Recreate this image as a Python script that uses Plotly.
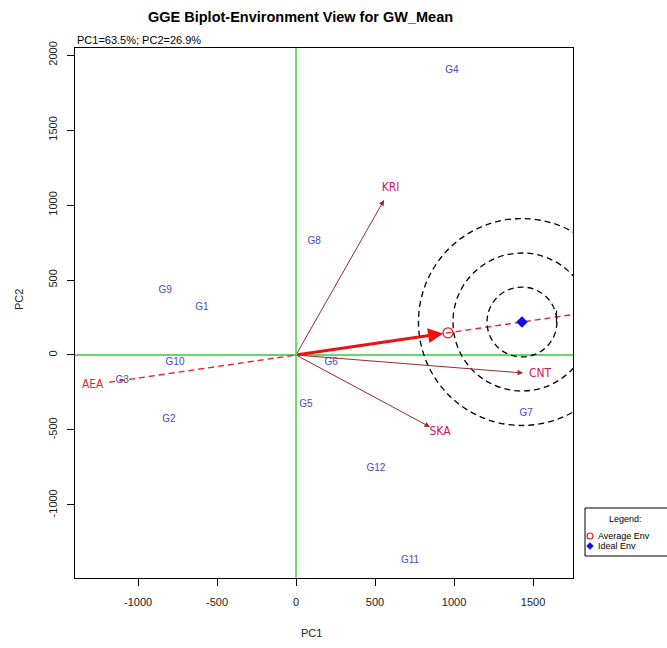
import math
import plotly.graph_objects as go

# ---------------- data ----------------
genotypes = ["G1", "G2", "G3", "G4", "G5", "G6", "G7", "G8", "G9", "G10", "G11", "G12"]
gen_pc1 = [-595, -804, -1101, 987, 63, 222, 1456, 114, -829, -766, 722, 506]
gen_pc2 = [320, -433, -167, 1900, -327, -47, -393, 760, 427, -53, -1367, -760]

environments = ["KRI", "CNT", "SKA"]
env_pc1 = [557, 1437, 848]
env_pc2 = [1033, -120, -480]

avg_env = [962, 148]      # average environment (PC1, PC2)
ideal_env = [1430, 220]   # ideal environment (PC1, PC2)
circle_radii = [233, 460, 690]  # concentric circles around ideal env (PC2 units)

x_ticks = [-1000, -500, 0, 500, 1000, 1500]
y_ticks = [-1000, -500, 0, 500, 1000, 1500, 2000]
x_range = [-1399, 1753]
y_range = [-1487, 2047]

title = "GGE Biplot-Environment View for GW_Mean"
subtitle = "PC1=63.5%; PC2=26.9%"

# ---------------- layout geometry ----------------
W, H = 667, 648
ml, mr, mt, mb = 75, 94, 48, 70
pw, ph = W - ml - mr, H - mt - mb
kx = (x_range[1] - x_range[0]) / pw   # data units per px (x)
ky = (y_range[1] - y_range[0]) / ph   # data units per px (y)
sx = kx / ky

FONT = "Liberation Sans, Arial"

fig = go.Figure()

# AEA dashed line through origin & ideal env
slope = ideal_env[1] / ideal_env[0]
aea_x0 = -0.827 * ideal_env[0]
aea_x1 = x_range[1]
fig.add_trace(go.Scatter(x=[aea_x0, aea_x1], y=[aea_x0 * slope, aea_x1 * slope],
                         mode="lines", line=dict(color="#e8262a", width=1.4, dash="6px,4px"),
                         hoverinfo="skip", showlegend=False))

shapes = []
# concentric dashed circles around ideal env
for r in circle_radii:
    shapes.append(dict(type="circle", xref="x", yref="y",
                       x0=ideal_env[0] - r * sx, x1=ideal_env[0] + r * sx,
                       y0=ideal_env[1] - r, y1=ideal_env[1] + r,
                       line=dict(color="black", width=1.3, dash="6px,4px"), layer="above"))

# green axes through origin
shapes.append(dict(type="line", xref="x", yref="paper", x0=0, x1=0, y0=0, y1=1,
                   line=dict(color="#33cc33", width=1.4), layer="below"))
shapes.append(dict(type="line", xref="paper", yref="y", x0=0, x1=1, y0=0, y1=0,
                   line=dict(color="#33cc33", width=1.4), layer="below"))

# small tick across AEA at inner circle
ang = math.atan2(ideal_env[1], ideal_env[0])
tx = ideal_env[0] + circle_radii[0] * sx * math.cos(ang)
ty = ideal_env[1] + circle_radii[0] * math.sin(ang)
shapes.append(dict(type="line", xref="x", yref="y", x0=tx, x1=tx, y0=ty - 40, y1=ty + 40,
                   line=dict(color="black", width=1.2)))

# genotype labels
fig.add_trace(go.Scatter(x=gen_pc1, y=gen_pc2, text=genotypes, mode="text",
                         textfont=dict(color="#4646d2", size=10, family=FONT),
                         hoverinfo="text", showlegend=False))

annotations = []
# environment vectors
for n, x, y in zip(environments, env_pc1, env_pc2):
    annotations.append(dict(x=x, y=y, ax=0, ay=0, xref="x", yref="y", axref="x", ayref="y",
                            showarrow=True, arrowhead=2, arrowsize=1.1, arrowwidth=1,
                            arrowcolor="#982a2a", text=""))
fig.add_trace(go.Scatter(x=[v * 1.075 for v in env_pc1], y=[v * 1.075 for v in env_pc2],
                         text=environments, mode="text",
                         textfont=dict(color="#d0145a", size=12, family="DejaVu Sans Condensed, DejaVu Sans"),
                         hoverinfo="text", showlegend=False))

# AEA label
fig.add_trace(go.Scatter(x=[-0.9 * ideal_env[0]], y=[-0.9 * ideal_env[1]], text=["AEA"], mode="text",
                         textfont=dict(color="#e8262a", size=12, family="DejaVu Sans Condensed, DejaVu Sans"),
                         hoverinfo="text", showlegend=False))

# average env thick arrow
annotations.append(dict(x=avg_env[0], y=avg_env[1], ax=0, ay=0, xref="x", yref="y", axref="x", ayref="y",
                        showarrow=True, arrowhead=2, arrowsize=1, arrowwidth=3, standoff=5,
                        arrowcolor="#ee1111", text=""))

# average env marker & ideal env marker
fig.add_trace(go.Scatter(x=[avg_env[0]], y=[avg_env[1]], mode="markers",
                         marker=dict(symbol="circle-open", size=10, color="#e02020", line=dict(width=1.3)),
                         showlegend=False))
fig.add_trace(go.Scatter(x=[ideal_env[0]], y=[ideal_env[1]], mode="markers",
                         marker=dict(symbol="diamond", size=9, color="#1010e0"),
                         showlegend=False))

# ---------- custom legend (outside plot) ----------
def px2paper_x(px):
    return (px - ml) / pw

def px2paper_y(py):
    return (H - mb - py) / ph

shapes.append(dict(type="rect", xref="paper", yref="paper",
                   x0=px2paper_x(585), x1=px2paper_x(668), y0=px2paper_y(556), y1=px2paper_y(508),
                   line=dict(color="black", width=1), fillcolor="white"))
annotations.append(dict(text="Legend:", xref="paper", yref="paper", x=px2paper_x(625), y=px2paper_y(519),
                        xanchor="center", yanchor="middle", showarrow=False,
                        font=dict(size=9, family=FONT, color="black")))
annotations.append(dict(text="Average Env", xref="paper", yref="paper", x=px2paper_x(596), y=px2paper_y(536),
                        xanchor="left", yanchor="middle", showarrow=False,
                        font=dict(size=9, family=FONT, color="black")))
annotations.append(dict(text="Ideal Env", xref="paper", yref="paper", x=px2paper_x(596), y=px2paper_y(546),
                        xanchor="left", yanchor="middle", showarrow=False,
                        font=dict(size=9, family=FONT, color="black")))
# legend symbols
cx, cy, r = 590, 536, 3
shapes.append(dict(type="circle", xref="paper", yref="paper",
                   x0=px2paper_x(cx - r), x1=px2paper_x(cx + r), y0=px2paper_y(cy + r), y1=px2paper_y(cy - r),
                   line=dict(color="#e02020", width=1.2)))
dx, dy, d = 590, 546, 3.5
shapes.append(dict(type="path", xref="paper", yref="paper",
                   path=f"M {px2paper_x(dx)} {px2paper_y(dy - d)} L {px2paper_x(dx + d)} {px2paper_y(dy)} "
                        f"L {px2paper_x(dx)} {px2paper_y(dy + d)} L {px2paper_x(dx - d)} {px2paper_y(dy)} Z",
                   line=dict(color="#1010e0", width=0.5), fillcolor="#1010e0"))

# titles
annotations.append(dict(text=f"<b>{title}</b>", xref="paper", yref="paper", x=px2paper_x(300), y=px2paper_y(17),
                        xanchor="center", yanchor="middle", showarrow=False,
                        font=dict(size=14.5, family=FONT, color="black")))
annotations.append(dict(text=subtitle, xref="paper", yref="paper", x=px2paper_x(75), y=px2paper_y(40),
                        xanchor="left", yanchor="middle", showarrow=False,
                        font=dict(size=11, family=FONT, color="black")))
# axis titles
annotations.append(dict(text="PC1", xref="paper", yref="paper", x=px2paper_x(311), y=px2paper_y(633),
                        xanchor="center", yanchor="middle", showarrow=False,
                        font=dict(size=11, family=FONT, color="#222")))
annotations.append(dict(text="PC2", xref="paper", yref="paper", x=px2paper_x(19), y=px2paper_y(300),
                        xanchor="center", yanchor="middle", showarrow=False, textangle=-90,
                        font=dict(size=11, family=FONT, color="#222")))

axis_common = dict(showgrid=False, zeroline=False, showline=True, mirror=True, linecolor="black", linewidth=1,
                   ticks="outside", ticklen=7, tickcolor="black", automargin=False,
                   tickfont=dict(size=11, family=FONT, color="#222"))

fig.update_layout(
    width=W, height=H, margin=dict(l=ml, r=mr, t=mt, b=mb, autoexpand=False),
    plot_bgcolor="white", paper_bgcolor="white",
    shapes=shapes, annotations=annotations, showlegend=False,
    xaxis=dict(range=x_range, tickvals=x_ticks, ticktext=[str(v) for v in x_ticks],
               ticklabelstandoff=7, **axis_common),
    yaxis=dict(range=y_range, tickvals=y_ticks, ticktext=[str(v) for v in y_ticks], tickangle=-90,
               ticklabelstandoff=6, **axis_common),
)

fig.write_html("out.html", config={"displayModeBar": False},
               post_script="document.body.style.margin='0';document.body.style.overflow='hidden';")
